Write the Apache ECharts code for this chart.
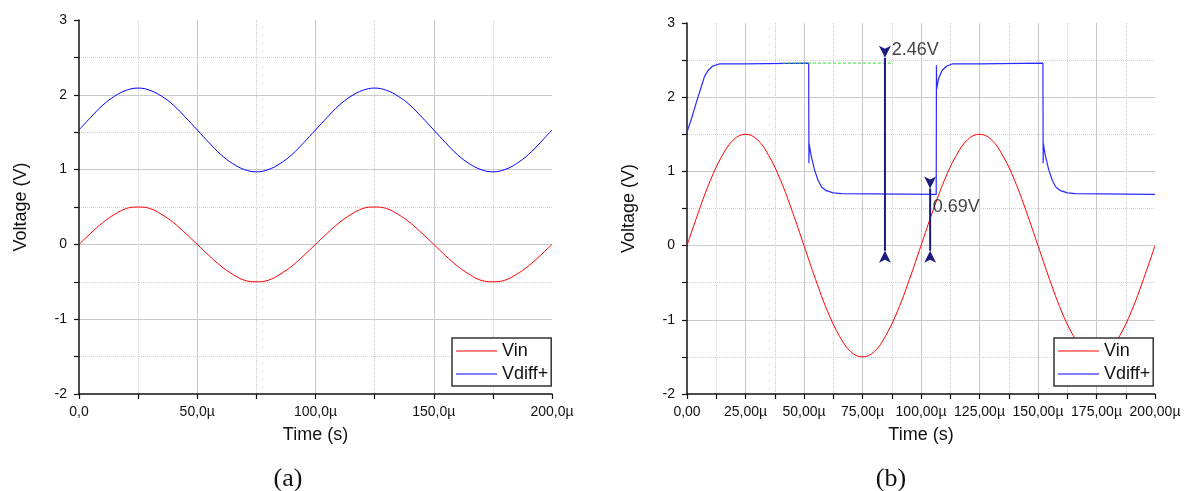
<!DOCTYPE html>
<html>
<head>
    <meta charset="utf-8">
    <title>Vin / Vdiff+</title>
    <script src="https://cdn.jsdelivr.net/npm/echarts@6/dist/echarts.min.js"></script>
    <style>
        body { margin: 0; background: #fff; }
        #main { width: 1184px; height: 491px; }
    </style>
</head>
<body>
<div id="main"></div>
<script type="text/javascript">
    // (a) -- time in µs, voltages
    var timeA = [0, 5, 10, 15, 20, 25, 30, 35, 40, 45, 50, 55, 60, 65, 70, 75, 80, 85, 90, 95,
        100, 105, 110, 115, 120, 125, 130, 135, 140, 145, 150, 155, 160, 165, 170, 175, 180, 185, 190, 195, 200];
    var vinA = [0, 0.15, 0.29, 0.40, 0.48, 0.50, 0.48, 0.40, 0.29, 0.15, 0, -0.15, -0.29, -0.40, -0.48, -0.50, -0.48, -0.40, -0.29, -0.15,
        0, 0.15, 0.29, 0.40, 0.48, 0.50, 0.48, 0.40, 0.29, 0.15, 0, -0.15, -0.29, -0.40, -0.48, -0.50, -0.48, -0.40, -0.29, -0.15, 0];
    var vdiffA = [1.53, 1.70, 1.86, 1.98, 2.06, 2.09, 2.06, 1.98, 1.86, 1.70, 1.53, 1.36, 1.20, 1.08, 1.00, 0.97, 1.00, 1.08, 1.20, 1.36,
        1.53, 1.70, 1.86, 1.98, 2.06, 2.09, 2.06, 1.98, 1.86, 1.70, 1.53, 1.36, 1.20, 1.08, 1.00, 0.97, 1.00, 1.08, 1.20, 1.36, 1.53];

    // (b)
    var timeB = timeA;
    var vinB = [0, 0.46, 0.88, 1.21, 1.43, 1.50, 1.43, 1.21, 0.88, 0.46, 0, -0.46, -0.88, -1.21, -1.43, -1.50, -1.43, -1.21, -0.88, -0.46,
        0, 0.46, 0.88, 1.21, 1.43, 1.50, 1.43, 1.21, 0.88, 0.46, 0, -0.46, -0.88, -1.21, -1.43, -1.50, -1.43, -1.21, -0.88, -0.46, 0];
    var timeDiffB = [0, 2, 4, 6, 7.5, 9, 11, 14, 25, 52.0, 52.1, 52.2, 53, 54.5, 56, 57.5, 59.5, 62.5, 66,
        106.5, 106.6, 106.7, 107.5, 109, 111, 113.5, 125, 152.1, 152.2, 152.3, 153.1, 154.6, 156.1, 157.6, 159.6, 162.6, 166, 200];
    var vdiffB = [1.53, 1.72, 1.93, 2.13, 2.28, 2.36, 2.42, 2.45, 2.45, 2.46, 1.11, 1.37, 1.22, 1.02, 0.88, 0.79, 0.74, 0.71, 0.70,
        0.69, 2.43, 2.11, 2.25, 2.36, 2.42, 2.45, 2.45, 2.46, 1.11, 1.37, 1.22, 1.02, 0.88, 0.79, 0.74, 0.71, 0.70, 0.69];

    // cursor annotations in (b)
    var cursor1 = [[84.6, 2.53], [84.6, -0.07]];
    var cursor2 = [[103.9, 0.77], [103.9, -0.07]];
    var levelLine = [[41, 2.46], [87.2, 2.46]];
    var cursorLabels = [{ value: [87.5, 2.64], text: '2.46V' }, { value: [105, 0.52], text: '0.69V' }];

    // tick labels
    var xLabelsA = ['0,0', '50,0µ', '100,0µ', '150,0µ', '200,0µ'];
    var xLabelsB = ['0,00', '25,00µ', '50,00µ', '75,00µ', '100,00µ', '125,00µ', '150,00µ', '175,00µ', '200,00µ'];

    function pairs(xs, ys) {
        var out = [];
        for (var i = 0; i < ys.length; i++) out.push([xs[i], ys[i]]);
        return out;
    }

    var font = 'Liberation Sans';
    var axisCol = '#111';

    function xAxisOf(idx, step, labels) {
        return {
            type: 'value', gridIndex: idx, min: 0, max: 200, interval: step,
            name: 'Time (s)', nameLocation: 'middle', nameGap: 32,
            nameTextStyle: { fontFamily: font, fontSize: 18, color: axisCol },
            axisLine: { show: true, onZero: false, lineStyle: { color: axisCol, width: 1.5 } },
            axisTick: { show: true, length: 5, lineStyle: { color: axisCol, width: 1.2 } },
            minorTick: { show: true, splitNumber: 2, length: 5, lineStyle: { color: axisCol, width: 1.2 } },
            axisLabel: {
                margin: 11, fontFamily: font, fontSize: 14, color: axisCol,
                formatter: function (v) { return labels[Math.round(v / step)]; }
            },
            splitLine: { show: true, showMinLine: false, showMaxLine: false, lineStyle: { color: '#c9c9c9', width: 1 } },
            minorSplitLine: { show: true, lineStyle: { color: '#cfcfcf', width: 1, type: [1, 1] } }
        };
    }

    function yAxisOf(idx) {
        return {
            type: 'value', gridIndex: idx, min: -2, max: 3, interval: 1,
            name: 'Voltage (V)', nameLocation: 'middle', nameGap: 49,
            nameTextStyle: { fontFamily: font, fontSize: 18, color: axisCol },
            axisLine: { show: true, lineStyle: { color: axisCol, width: 1.5 } },
            axisTick: { show: true, length: 5, lineStyle: { color: axisCol, width: 1.2 } },
            minorTick: { show: true, splitNumber: 2, length: 5, lineStyle: { color: axisCol, width: 1.2 } },
            axisLabel: { margin: 12, fontFamily: font, fontSize: 14, color: axisCol },
            splitLine: { show: true, showMinLine: false, showMaxLine: false, lineStyle: { color: '#c9c9c9', width: 1 } },
            minorSplitLine: { show: true, lineStyle: { color: '#cfcfcf', width: 1, type: [1, 1] } }
        };
    }

    function legendOf(left) {
        return {
            data: ['Vin', 'Vdiff+'], orient: 'vertical', left: left, top: 338,
            icon: 'path://M0,0 H41 V1.2 H0 Z', symbolKeepAspect: true,
            backgroundColor: '#fff', borderColor: '#333', borderWidth: 1.5, borderRadius: 0,
            padding: [4, 3, 3, 4], itemGap: 5, itemWidth: 41, itemHeight: 18,
            textStyle: { fontFamily: font, fontSize: 18, color: '#111' }
        };
    }

    function cursorSeries(pts) {
        return {
            type: 'line', xAxisIndex: 1, yAxisIndex: 1, z: 5,
            data: [
                { value: pts[0], symbolRotate: 180 },
                { value: pts[1], symbolRotate: 0 }
            ],
            symbol: 'arrow', symbolSize: [9, 12], showSymbol: true,
            lineStyle: { color: '#1c1c80', width: 2 },
            itemStyle: { color: '#1c1c80' },
            silent: true
        };
    }

    var chart = echarts.init(document.getElementById('main'));
    chart.setOption({
        animation: false,
        backgroundColor: '#fff',
        grid: [
            { left: 79, top: 20, width: 473, height: 374 },
            { left: 687, top: 23, width: 468, height: 371 }
        ],
        xAxis: [xAxisOf(0, 50, xLabelsA), xAxisOf(1, 25, xLabelsB)],
        yAxis: [yAxisOf(0), yAxisOf(1)],
        legend: [legendOf(452), legendOf(1054)],
        graphic: [
            { type: 'text', x: 288, y: 479, style: { text: '(a)', fontFamily: 'Liberation Serif', fontSize: 26, fill: '#111', textAlign: 'center', textVerticalAlign: 'middle' } },
            { type: 'text', x: 891, y: 479, style: { text: '(b)', fontFamily: 'Liberation Serif', fontSize: 26, fill: '#111', textAlign: 'center', textVerticalAlign: 'middle' } }
        ],
        series: [
            {
                name: 'Vin', type: 'line', xAxisIndex: 0, yAxisIndex: 0, symbol: 'none', smooth: 0.4,
                data: pairs(timeA, vinA), lineStyle: { color: '#ff0000', width: 1 }, itemStyle: { color: '#ff0000' }
            },
            {
                name: 'Vdiff+', type: 'line', xAxisIndex: 0, yAxisIndex: 0, symbol: 'none', smooth: 0.4,
                data: pairs(timeA, vdiffA), lineStyle: { color: '#0000ff', width: 1 }, itemStyle: { color: '#0000ff' }
            },
            {
                name: 'Vin', type: 'line', xAxisIndex: 1, yAxisIndex: 1, symbol: 'none', smooth: 0.4,
                data: pairs(timeB, vinB), lineStyle: { color: '#ff0000', width: 1 }, itemStyle: { color: '#ff0000' }
            },
            {
                name: 'Vdiff+', type: 'line', xAxisIndex: 1, yAxisIndex: 1, symbol: 'none',
                data: pairs(timeDiffB, vdiffB), lineStyle: { color: '#2a2aff', width: 1.2 }, itemStyle: { color: '#4d4dff' }
            },
            {
                type: 'line', xAxisIndex: 1, yAxisIndex: 1, symbol: 'none', z: 3, silent: true,
                data: levelLine, lineStyle: { color: '#33dd33', width: 1, type: [3, 2] }
            },
            cursorSeries(cursor1),
            cursorSeries(cursor2),
            {
                type: 'scatter', xAxisIndex: 1, yAxisIndex: 1, symbolSize: 0, z: 6, silent: true,
                data: cursorLabels.map(function (c) { return { value: c.value, name: c.text }; }),
                label: {
                    show: true, position: 'right', distance: 0, formatter: '{b}',
                    fontFamily: font, fontSize: 18, color: '#111'
                }
            }
        ]
    });
</script>
</body>
</html>
